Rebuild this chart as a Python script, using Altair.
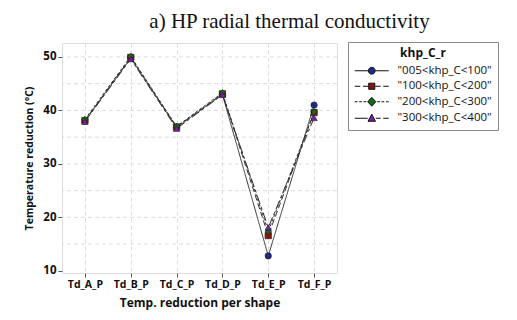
import json
import altair as alt
import pandas as pd

shapes = ["Td_A_P", "Td_B_P", "Td_C_P", "Td_D_P", "Td_E_P", "Td_F_P"]
series = ['"005<khp_C<100"', '"100<khp_C<200"', '"200<khp_C<300"', '"300<khp_C<400"']
s005 = [38.0, 49.8, 36.8, 43.0, 12.8, 41.0]
s100 = [38.1, 49.9, 36.9, 43.1, 16.6, 39.6]
s200 = [38.3, 50.1, 37.0, 43.3, 17.4, 39.7]
s300 = [37.9, 49.6, 36.6, 42.9, 18.1, 38.6]
grid_vals = [15, 20, 25, 30, 35, 40, 45, 50]
y_ticks = [10, 20, 30, 40, 50]

marker_colors = ["#1a2a8c", "#8b1010", "#0f6e14", "#7a1fa8"]
marker_shapes = ["circle", "square", "diamond", "triangle-up"]
dashes = [[1, 0], [6, 3], [3, 2], [9, 3, 3, 3]]

legend_paths = [
    "M-5,0H-1M1,0H5M-1,0A1,1 0 1,0 1,0A1,1 0 1,0 -1,0Z",
    "M-5,0H-3.4M-2.6,0H-1M1,0H2.6M3.4,0H5M-0.9,-0.9H0.9V0.9H-0.9Z",
    "M-5,0H-4.2M-3.7,0H-2.9M-2.4,0H-1.6M1.6,0H2.4M2.9,0H3.7M4.2,0H5M0,-1.3L1.2,0L0,1.3L-1.2,0Z",
    "M-5,0H-1.2M1.2,0H2.6M3.4,0H5M0,-1.2L1.1,0.9H-1.1Z",
]

rows = []
for name, vals in zip(series, [s005, s100, s200, s300]):
    for sh, v in zip(shapes, vals):
        rows.append({"shape": sh, "value": v, "series": name})
df = pd.DataFrame(rows)
grid_df = pd.DataFrame({"g": grid_vals})

font = "Open Sans"
yscale = alt.Scale(domain=[9.6, 52.6], nice=False, zero=False)
xscale = alt.Scale(domain=shapes, padding=0.5)


def test(s):
    return "datum.series === " + json.dumps(s)


shape_value = alt.ShapeValue(
    value=marker_shapes[0],
    condition=[{"test": test(s), "value": m} for s, m in zip(series[1:], marker_shapes[1:])],
)
dash_value = alt.StrokeDashValue(
    value=dashes[0],
    condition=[{"test": test(s), "value": d} for s, d in zip(series[1:], dashes[1:])],
)

shape_signal = "[" + ",".join("'" + p + "'" for p in legend_paths) + "][datum.index]"
legend = alt.Legend(
    title="khp_C_r",
    orient="none", legendX=286, legendY=-1,
    padding=6, symbolOffset=12, labelOffset=20,
    symbolType=alt.ExprRef(shape_signal),
    symbolSize=46, symbolStrokeColor="#111", symbolStrokeWidth=1, symbolOpacity=1,
    labelFont=font, labelFontSize=11.5, labelColor="#111",
    titleFont=font, titleFontSize=12, titleFontWeight="bold", titleColor="#111",
    titleAnchor="middle",
    titlePadding=5, rowPadding=2.5,
    strokeColor="#888", fillColor="white", cornerRadius=0,
    labelLimit=200,
)

grid = alt.Chart(grid_df).mark_rule(color="#dddddd", strokeDash=[4, 3], strokeWidth=1).encode(
    y=alt.Y("g:Q", scale=yscale)
)

base = alt.Chart(df)

lines = base.mark_line(color="#333333", strokeWidth=1).encode(
    x=alt.X("shape:N", scale=xscale, sort=shapes,
            axis=alt.Axis(title="Temp. reduction per shape", labelAngle=0, grid=True,
                          gridColor="#dddddd", gridDash=[4, 3], domain=False,
                          tickColor="#555", tickSize=4,
                          labelFont=font, labelFontSize=10.5, labelFontWeight="bold", labelColor="#111",
                          titleFont=font, titleFontSize=12, titleFontWeight="bold", titleColor="#111",
                          labelPadding=2, titlePadding=8)),
    y=alt.Y("value:Q", scale=yscale,
            axis=alt.Axis(title="Temperature reduction (°C)", values=y_ticks, grid=False, domain=False,
                          tickColor="#555", tickSize=4,
                          labelFont=font, labelFontSize=11.5, labelFontWeight="bold", labelColor="#111",
                          titleFont=font, titleFontSize=10.5, titleFontWeight="bold", titleColor="#111",
                          labelPadding=2, titlePadding=8)),
    strokeDash=dash_value,
    detail="series:N",
)

points = base.mark_point(filled=True, size=40, stroke="#222222", strokeWidth=0.7, opacity=1).encode(
    x=alt.X("shape:N", scale=xscale, sort=shapes),
    y=alt.Y("value:Q", scale=yscale),
    shape=shape_value,
    fill=alt.Fill("series:N", scale=alt.Scale(domain=series, range=marker_colors), legend=legend),
)

chart = alt.layer(grid, lines, points).properties(
    width=275, height=230,
    autosize=alt.AutoSizeParams(type="none"),
    padding={"left": 62, "top": 43, "right": 180, "bottom": 47},
    title=alt.TitleParams("a) HP radial thermal conductivity", font="Liberation Serif",
                          fontSize=21, fontWeight="normal", color="#111", anchor="middle",
                          dx=90, offset=10),
).configure_view(stroke="#888888", strokeWidth=1).configure(background="white")

chart.save("out.html", embed_options={"renderer": "svg", "actions": False})
